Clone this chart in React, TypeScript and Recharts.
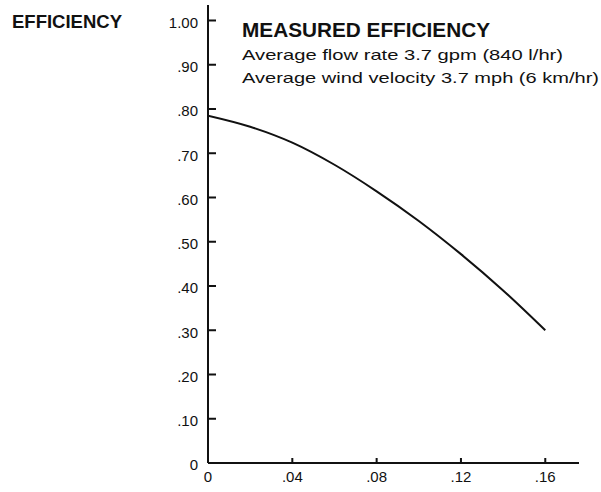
import React from 'react';
import { LineChart, Line, XAxis, YAxis } from 'recharts';

const flowXs = [0, 0.02, 0.04, 0.06, 0.08, 0.1, 0.12, 0.14, 0.16];
const efficiency = [0.785, 0.76, 0.724, 0.674, 0.614, 0.547, 0.472, 0.39, 0.3];
const yTicks = [0, 0.1, 0.2, 0.3, 0.4, 0.5, 0.6, 0.7, 0.8, 0.9, 1.0];
const xTicks = [0, 0.04, 0.08, 0.12, 0.16];
const yAxisTitle = 'EFFICIENCY';
const chartTitle = 'MEASURED EFFICIENCY';
const noteLines = ['Average flow rate 3.7 gpm (840 l/hr)', 'Average wind velocity 3.7 mph (6 km/hr)'];

const data = flowXs.map((x, i) => ({ x, eff: efficiency[i] }));

const FONT = '"Liberation Sans", Arial, sans-serif';
const INK = '#111';

const fmtY = (v: number) => (v === 0 ? '0' : v >= 1 ? v.toFixed(2) : '.' + Math.round(v * 100).toString().padStart(2, '0'));
const fmtX = (v: number) => (v === 0 ? '0' : '.' + Math.round(v * 100).toString().padStart(2, '0'));

const Y_MARGIN = 10;
const X_MARGIN = 8;

const YTick = (props: any) => {
  const x = Number(props.x);
  const y = Number(props.y);
  const { payload } = props;
  const axisX = x + Y_MARGIN;
  return (
    <g>
      <rect x={axisX} y={y - 1} width={8} height={2} fill={INK} />
      <text x={x} y={y + 2} dy="0.355em" textAnchor="end" fontFamily={FONT} fontSize={15} fill={INK}>
        {fmtY(payload.value)}
      </text>
    </g>
  );
};

const XTick = (props: any) => {
  const x = Number(props.x);
  const y = Number(props.y);
  const { payload } = props;
  const axisY = y - X_MARGIN;
  return (
    <g>
      {payload.value !== 0 && <rect x={x - 1} y={axisY - 5} width={2} height={5} fill={INK} />}
      <text x={x} y={y} dy="0.71em" textAnchor="middle" fontFamily={FONT} fontSize={15} fill={INK}>
        {fmtX(payload.value)}
      </text>
    </g>
  );
};

export default function App() {
  return (
    <div style={{ position: 'absolute', left: 0, top: 0, width: 601, height: 492, background: '#fff' }}>
      <LineChart width={601} height={492} data={data} margin={{ top: 5, right: 22, bottom: 4, left: 0 }}>
        <XAxis
          dataKey="x"
          type="number"
          domain={[0, 0.176]}
          ticks={xTicks}
          tickSize={0}
          tickMargin={X_MARGIN}
          tick={(p: any) => <XTick {...p} />}
          axisLine={{ stroke: INK, strokeWidth: 2 }}
          height={25}
          allowDataOverflow
        />
        <YAxis
          type="number"
          domain={[0, 1.035]}
          ticks={yTicks}
          tickSize={0}
          tickMargin={Y_MARGIN}
          tick={(p: any) => <YTick {...p} />}
          axisLine={{ stroke: INK, strokeWidth: 2 }}
          width={208}
          allowDataOverflow
        />
        <Line
          type="monotone"
          dataKey="eff"
          stroke={INK}
          strokeWidth={2}
          dot={false}
          isAnimationActive={false}
        />
      </LineChart>
      <svg width={601} height={492} style={{ position: 'absolute', left: 0, top: 0, pointerEvents: 'none' }}>
        <text x={12} y={28} fontFamily={FONT} fontSize={18} fontWeight="bold" fill={INK} textLength={110} lengthAdjust="spacingAndGlyphs">
          {yAxisTitle}
        </text>
        <text x={242} y={37} fontFamily={FONT} fontSize={20} fontWeight="bold" fill={INK} textLength={248} lengthAdjust="spacingAndGlyphs">
          {chartTitle}
        </text>
        <text x={242} y={60} fontFamily={FONT} fontSize={14.5} fill={INK} textLength={321} lengthAdjust="spacingAndGlyphs">
          {noteLines[0]}
        </text>
        <text x={242} y={83} fontFamily={FONT} fontSize={14.5} fill={INK} textLength={357} lengthAdjust="spacingAndGlyphs">
          {noteLines[1]}
        </text>
      </svg>
    </div>
  );
}
